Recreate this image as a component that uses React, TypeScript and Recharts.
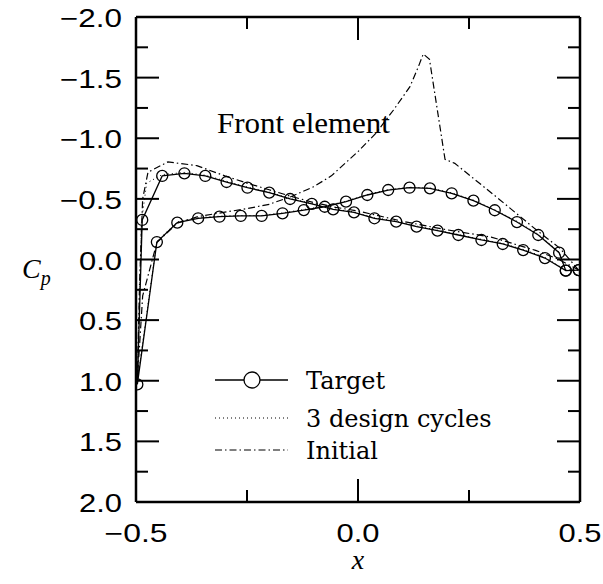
import React from 'react';
import { LineChart, Line, XAxis, YAxis, Legend, ReferenceDot } from 'recharts';

// ---------- data ----------
const seriesNames = ['Target', '3 design cycles', 'Initial'];
const xTicks = [-0.5, -0.25, 0, 0.25, 0.5];
const xLabeled = [-0.5, 0, 0.5];
const yTicks = [-2, -1.75, -1.5, -1.25, -1, -0.75, -0.5, -0.25, 0, 0.25, 0.5, 0.75, 1, 1.25, 1.5, 1.75, 2];
const annotationText = 'Front element';
const annotationX = -0.3176;
const annotationCp = -1.043;

// Target: upper (suction) branch, leading edge -> trailing edge
const targetUpperX = [-0.497, -0.486, -0.441, -0.391, -0.344, -0.296, -0.249, -0.2, -0.153, -0.104, -0.056, -0.009, 0.037, 0.086, 0.132, 0.179, 0.226, 0.278, 0.326, 0.372, 0.421, 0.468, 0.497];
const targetUpperCp = [1.03, -0.326, -0.689, -0.711, -0.689, -0.639, -0.592, -0.551, -0.499, -0.458, -0.414, -0.389, -0.34, -0.312, -0.271, -0.238, -0.202, -0.161, -0.128, -0.078, -0.012, 0.092, 0.087];
// Target: other branch, leading edge -> trailing edge
const targetLowerX = [-0.497, -0.453, -0.407, -0.36, -0.312, -0.264, -0.217, -0.17, -0.122, -0.075, -0.027, 0.021, 0.068, 0.116, 0.162, 0.211, 0.26, 0.308, 0.358, 0.406, 0.453, 0.468, 0.497];
const targetLowerCp = [1.03, -0.144, -0.304, -0.34, -0.353, -0.359, -0.359, -0.381, -0.408, -0.435, -0.477, -0.532, -0.573, -0.592, -0.587, -0.546, -0.485, -0.406, -0.309, -0.202, -0.056, 0.092, 0.087];

// 3 design cycles
const designUpperX = [-0.497, -0.488, -0.476, -0.441, -0.391, -0.344, -0.296, -0.249, -0.2, -0.153, -0.104, -0.056, -0.009, 0.037, 0.086, 0.132, 0.179, 0.226, 0.278, 0.326, 0.372, 0.421, 0.468, 0.497];
const designUpperCp = [1.0, -0.3, -0.63, -0.7, -0.718, -0.695, -0.645, -0.597, -0.556, -0.503, -0.462, -0.418, -0.392, -0.345, -0.316, -0.276, -0.242, -0.206, -0.166, -0.132, -0.083, -0.018, 0.088, 0.087];
const designLowerX = [-0.497, -0.453, -0.407, -0.36, -0.312, -0.264, -0.217, -0.17, -0.122, -0.075, -0.027, 0.021, 0.068, 0.116, 0.162, 0.211, 0.26, 0.308, 0.358, 0.406, 0.453, 0.468, 0.497];
const designLowerCp = [1.0, -0.15, -0.31, -0.345, -0.357, -0.362, -0.363, -0.385, -0.412, -0.44, -0.481, -0.536, -0.577, -0.596, -0.59, -0.55, -0.49, -0.41, -0.315, -0.208, -0.062, 0.088, 0.087];

// Initial
const initUpperX = [-0.497, -0.492, -0.485, -0.473, -0.428, -0.363, -0.3, -0.25, -0.2, -0.15, -0.1, -0.05, 0.0, 0.1, 0.2, 0.3, 0.4, 0.45, 0.497];
const initUpperCp = [1.0, 0.2, -0.5, -0.72, -0.805, -0.774, -0.69, -0.63, -0.575, -0.52, -0.47, -0.43, -0.4, -0.315, -0.245, -0.185, -0.075, -0.005, 0.087];
const initLowerX = [-0.497, -0.485, -0.453, -0.407, -0.36, -0.3, -0.25, -0.2, -0.15, -0.1, -0.06, 0.0, 0.04, 0.08, 0.117, 0.136, 0.147, 0.161, 0.196, 0.218, 0.312, 0.402, 0.455, 0.497];
const initLowerCp = [1.0, 0.3, -0.14, -0.3, -0.355, -0.39, -0.42, -0.455, -0.52, -0.6, -0.69, -0.89, -1.04, -1.233, -1.425, -1.59, -1.695, -1.651, -0.826, -0.793, -0.515, -0.243, -0.092, 0.087];

// ---------- helpers ----------
type Pt = { x: number; cp: number };
function buildLoop(ux: number[], uc: number[], lx: number[], lc: number[]): Pt[] {
  const pts: Pt[] = [];
  for (let i = ux.length - 1; i >= 0; i--) pts.push({ x: ux[i], cp: uc[i] });
  for (let i = 1; i < lx.length; i++) pts.push({ x: lx[i], cp: lc[i] });
  return pts;
}
const targetData = buildLoop(targetUpperX, targetUpperCp, targetLowerX, targetLowerCp);
const designData = buildLoop(designUpperX, designUpperCp, designLowerX, designLowerCp);
const initData = buildLoop(initUpperX, initUpperCp, initLowerX, initLowerCp);

const fmt = (v: number) => (v < 0 ? '\u2212' : '') + Math.abs(v).toFixed(1);
const isHalf = (v: number) => Math.abs(v * 2 - Math.round(v * 2)) < 1e-9;
const isXMajor = (v: number) => Math.abs(v) < 1e-9 || Math.abs(Math.abs(v) - 0.5) < 1e-9;
const MAJOR = 23;
const MINOR = 12;
const TICK_W = 2;
const labelFont = { fontFamily: 'Liberation Sans', fontSize: 25, fill: '#000' };

const LeftTick = (p: any) => {
  const { x, y, payload } = p;
  const v = payload.value;
  const major = isHalf(v);
  return (
    <g>
      <line x1={x} y1={y} x2={x + (major ? MAJOR : MINOR)} y2={y} stroke="#000" strokeWidth={TICK_W} />
      {major && (
        <text x={x - 14} y={y + 10} textAnchor="end" {...labelFont} textLength={v < 0 ? 62 : 43} lengthAdjust="spacingAndGlyphs">
          {fmt(v)}
        </text>
      )}
    </g>
  );
};
const RightTick = (p: any) => {
  const { x, y, payload } = p;
  const major = isHalf(payload.value);
  return <line x1={x} y1={y} x2={x - (major ? MAJOR : MINOR)} y2={y} stroke="#000" strokeWidth={TICK_W} />;
};
const BottomTick = (p: any) => {
  const { x, y, payload } = p;
  const v = payload.value;
  const major = isXMajor(v);
  const labeled = xLabeled.some((t) => Math.abs(t - v) < 1e-9);
  return (
    <g>
      <line x1={x} y1={y} x2={x} y2={y - (major ? MAJOR : MINOR)} stroke="#000" strokeWidth={TICK_W} />
      {labeled && (
        <text x={x} y={y + 40} textAnchor="middle" {...labelFont} textLength={v < 0 ? 63 : 43} lengthAdjust="spacingAndGlyphs">
          {fmt(v)}
        </text>
      )}
    </g>
  );
};
const TopTick = (p: any) => {
  const { x, y, payload } = p;
  const major = isXMajor(payload.value);
  return <line x1={x} y1={y} x2={x} y2={y + (major ? MAJOR : MINOR)} stroke="#000" strokeWidth={TICK_W} />;
};

const TargetDot = (p: any) => (
  <circle key={`td-${p.index}`} cx={p.cx} cy={p.cy} r={5.5} fill="none" stroke="#000" strokeWidth={1.3} />
);

const CpLabel = (props: any) => {
  const vb = props.viewBox || { x: 76, y: 17, width: 60, height: 485 };
  const cx = vb.x - 54;
  const cy = vb.y + vb.height / 2 + 18;
  return (
    <text x={cx} y={cy} fontFamily="Liberation Serif" fontStyle="italic" fontSize={28} fill="#000">
      C<tspan fontSize={20} dy={7}>p</tspan>
    </text>
  );
};
const XLabel = (props: any) => {
  const vb = props.viewBox || { x: 136, y: 502, width: 444, height: 30 };
  return (
    <text x={vb.x + vb.width / 2} y={vb.y + 67} textAnchor="middle" fontFamily="Liberation Serif" fontStyle="italic" fontSize={28} fill="#000">
      x
    </text>
  );
};
const AnnotationLabel = (props: any) => {
  const vb = props.viewBox || { x: 217, y: 133, width: 0, height: 0 };
  const x = vb.x + (vb.width || 0) / 2;
  const y = vb.y + (vb.height || 0) / 2;
  return (
    <text x={x} y={y} fontFamily="Liberation Serif" fontSize={30} fill="#000" textLength={173} lengthAdjust="spacingAndGlyphs">
      {annotationText}
    </text>
  );
};

const LegendBox = () => {
  const rows = [
    { cy: 25, dash: undefined as string | undefined, w: 1.3, marker: true },
    { cy: 63, dash: '1 3', w: 1, marker: false },
    { cy: 95, dash: '7 3 1.5 3', w: 1.2, marker: false },
  ];
  return (
    <svg width={300} height={115} style={{ display: 'block', overflow: 'visible' }}>
      {rows.map((r, i) => (
        <g key={i}>
          <line x1={5} x2={78} y1={r.cy} y2={r.cy} stroke="#000" strokeWidth={r.w} strokeDasharray={r.dash} />
          {r.marker && <circle cx={42} cy={r.cy} r={8} fill="#fff" stroke="#000" strokeWidth={1.3} />}
          <text x={96} y={r.cy + 9} fontFamily="DejaVu Serif" fontSize={24} fill="#000">
            {seriesNames[i]}
          </text>
        </g>
      ))}
    </svg>
  );
};

export default function App() {
  return (
    <div style={{ position: 'absolute', left: 0, top: 0, width: 603, height: 584, background: '#fff' }}>
      <LineChart width={603} height={584} margin={{ top: 16, right: 22, bottom: 52, left: 76 }}>
        <XAxis
          dataKey="x"
          type="number"
          domain={[-0.5, 0.5]}
          ticks={xTicks}
          interval={0}
          allowDataOverflow
          tickSize={0}
          tickMargin={0}
          tickLine={false}
          axisLine={{ stroke: '#000', strokeWidth: 2.5 }}
          tick={<BottomTick />}
          height={30}
          label={(p: any) => <XLabel {...p} />}
        />
        <XAxis
          xAxisId="top"
          orientation="top"
          dataKey="x"
          type="number"
          domain={[-0.5, 0.5]}
          ticks={xTicks}
          interval={0}
          allowDataOverflow
          tickSize={0}
          tickMargin={0}
          tickLine={false}
          axisLine={{ stroke: '#000', strokeWidth: 2.5 }}
          tick={<TopTick />}
          height={1}
        />
        <YAxis
          type="number"
          domain={[-2, 2]}
          reversed
          ticks={yTicks}
          interval={0}
          allowDataOverflow
          tickSize={0}
          tickMargin={0}
          tickLine={false}
          axisLine={{ stroke: '#000', strokeWidth: 2.5 }}
          tick={<LeftTick />}
          width={60}
          label={(p: any) => <CpLabel {...p} />}
        />
        <YAxis
          yAxisId="r"
          orientation="right"
          type="number"
          domain={[-2, 2]}
          reversed
          ticks={yTicks}
          interval={0}
          allowDataOverflow
          tickSize={0}
          tickMargin={0}
          tickLine={false}
          axisLine={{ stroke: '#000', strokeWidth: 2.5 }}
          tick={<RightTick />}
          width={1}
        />
        <Line data={initData} dataKey="cp" type="linear" stroke="#000" strokeWidth={1.2} strokeDasharray="7 3 1.5 3" dot={false} isAnimationActive={false} />
        <Line data={designData} dataKey="cp" type="linear" stroke="#000" strokeWidth={1} strokeDasharray="1 3" dot={false} isAnimationActive={false} />
        <Line data={targetData} dataKey="cp" type="linear" stroke="#000" strokeWidth={1.3} dot={TargetDot} isAnimationActive={false} />
        <ReferenceDot x={annotationX} y={annotationCp} r={1} fill="none" stroke="none" label={(p: any) => <AnnotationLabel {...p} />} />
        <Legend
          layout="vertical"
          align="center"
          verticalAlign="middle"
          wrapperStyle={{ left: 210, top: 355, width: 300, height: 115 }}
          content={() => <LegendBox />}
        />
      </LineChart>
    </div>
  );
}
